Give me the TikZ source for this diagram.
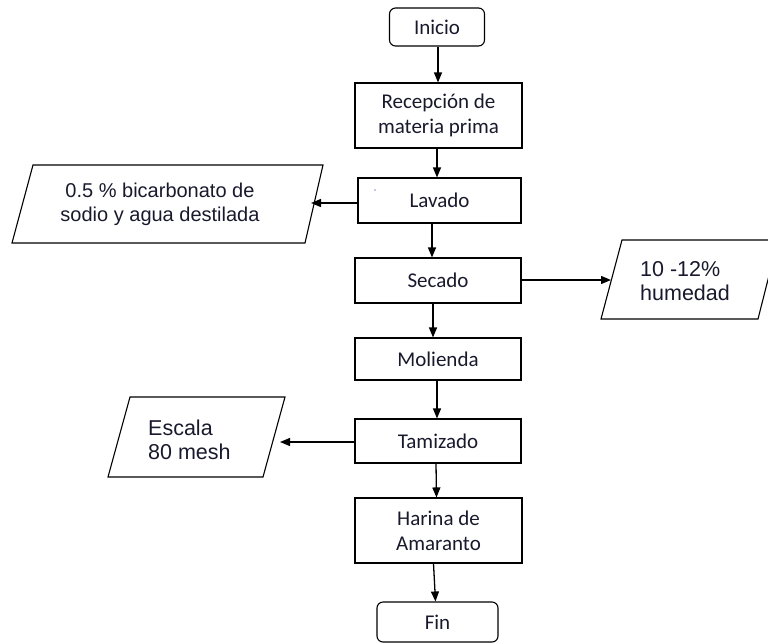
\documentclass[tikz,border=0pt]{standalone}
\usepackage{fontspec}
\setmainfont{Carlito}
\newfontfamily\arialfont{Liberation Sans}
\usetikzlibrary{arrows.meta}
\definecolor{ink}{RGB}{25,25,45}

\begin{document}
\begin{tikzpicture}[x=1pt,y=-1pt,
  stepbox/.style={draw, line width=1.1pt, minimum width=166pt, inner sep=0pt,
    align=center, text=ink, font=\fontsize{21}{25}\selectfont},
  endbox/.style={stepbox, rounded corners=6pt},
  datashape/.style={draw, line width=1.1pt},
  datatext/.style={inner sep=0pt, text=ink, font=\arialfont\fontsize{20}{24}\selectfont},
  bigdata/.style={datatext, font=\arialfont\fontsize{21.5}{24}\selectfont},
  arr/.style={draw, line width=1.3pt, -{Triangle[length=10pt,width=8pt]}}
]
\useasboundingbox (0,0) rectangle (768,643);
\clip (0,0) rectangle (768,643);

% process chain
\node[endbox, minimum width=95pt, minimum height=38pt] (ini) at (437,27) {Inicio};
\node[stepbox, minimum width=167pt, minimum height=65pt] (rec) at (438.5,115.5) {Recepción de\\materia prima};
\node[stepbox, minimum width=163pt, minimum height=45pt] (lav) at (439.5,200.5) {Lavado};
\node[stepbox, minimum height=45pt] (sec) at (438,280.5) {Secado};
\node[stepbox, minimum height=42pt] (mol) at (438,359) {Molienda};
\node[stepbox, minimum height=44pt] (tam) at (438,441) {Tamizado};
\node[stepbox, minimum width=167pt, minimum height=65pt] (har) at (438.5,530.5) {Harina de\\Amaranto};
\node[endbox, minimum width=121pt, minimum height=40pt] (fin) at (437.5,622) {Fin};

% stray mark inside the washing box
\fill[blue] (375,190) circle (0.7pt);

% side data (parallelograms)
\draw[datashape] (33,165) -- (323,165) -- (305,243) -- (12,243) -- cycle;
\node[datatext, align=center] (bic) at (160,204) {0.5 \% bicarbonato de\\sodio y agua destilada};
\coordinate (bicin) at (311,203);

\draw[datashape] (622,240) -- (778,240) -- (758,319) -- (601,319) -- cycle;
\node[bigdata, align=left, anchor=west] (hum) at (640,281) {10 -12\%\\humedad};
\coordinate (humin) at (611,280);

\draw[datashape] (130,397) -- (285,397) -- (263,477) -- (108,477) -- cycle;
\node[bigdata, align=left, anchor=west] (esc) at (148,440) {Escala\\80 mesh};
\coordinate (escin) at (280,442);

% connectors
\draw[arr] ([xshift=1pt]ini.south) -- ([xshift=-0.5pt]rec.north);
\draw[arr] ([xshift=-1.5pt]rec.south) -- ([xshift=-2.5pt]lav.north);
\draw[arr] ([xshift=-7.5pt]lav.south) -- ([xshift=-6pt]sec.north);
\draw[arr] ([xshift=-5pt]sec.south) -- ([xshift=-5pt]mol.north);
\draw[arr] ([xshift=-1pt]mol.south) -- ([xshift=-1pt]tam.north);
\draw[arr] ([xshift=-2pt]tam.south) -- ([xshift=-2pt]har.north);
\draw[arr] ([xshift=-5pt]har.south) -- ([xshift=-2pt]fin.north);

\draw[arr] (lav.west |- bicin) -- (bicin);
\draw[arr] (sec.east |- humin) -- (humin);
\draw[arr] (tam.west |- escin) -- (escin);
\end{tikzpicture}
\end{document}
